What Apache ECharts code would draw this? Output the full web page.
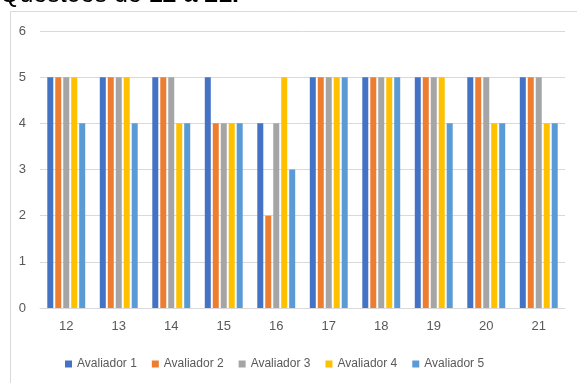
<!DOCTYPE html>
<html>
<head>
<meta charset="utf-8">
<script src="https://cdn.jsdelivr.net/npm/echarts@6/dist/echarts.min.js"></script>
<style>
  html, body { margin: 0; padding: 0; background: #fff; }
  #chart { width: 577px; height: 383px; }
</style>
</head>
<body>
<div id="chart"></div>
<script>
// questões 12..21, notas de cada avaliador
var questoes = ["12", "13", "14", "15", "16", "17", "18", "19", "20", "21"];
var avaliador1 = [5, 5, 5, 5, 4, 5, 5, 5, 5, 5];
var avaliador2 = [5, 5, 5, 4, 2, 5, 5, 5, 5, 5];
var avaliador3 = [5, 5, 5, 4, 4, 5, 5, 5, 5, 5];
var avaliador4 = [5, 5, 4, 4, 5, 5, 5, 5, 4, 4];
var avaliador5 = [4, 4, 4, 4, 3, 5, 5, 4, 4, 4];
var yTicks = [0, 1, 2, 3, 4, 5, 6];

var nomes = ["Avaliador 1", "Avaliador 2", "Avaliador 3", "Avaliador 4", "Avaliador 5"];
var valores = [avaliador1, avaliador2, avaliador3, avaliador4, avaliador5];
var cores = ["#4472c4", "#ed7d31", "#a5a5a5", "#ffc000", "#5b9bd5"];

var myChart = echarts.init(document.getElementById("chart"));

var option = {
  animation: false,
  color: cores,
  textStyle: { fontFamily: "Liberation Sans" },
  graphic: [
    {
      type: "rect",
      shape: { x: 10.5, y: 11.5, width: 700, height: 500 },
      style: { fill: "none", stroke: "#d9d9d9", lineWidth: 1 },
      silent: true
    },
    {
      type: "text",
      left: 0,
      top: -17,
      style: {
        text: "{n|Questões de }{b|12 a 21.}",
        rich: {
          n: { fontSize: 25, fill: "#000", fontFamily: "Liberation Sans" },
          b: { fontSize: 25, fill: "#000", fontWeight: "bold", fontFamily: "Liberation Sans" }
        }
      }
    }
  ],
  legend: {
    bottom: 8,
    left: 60,
    itemWidth: 7,
    itemHeight: 7,
    itemGap: 15,
    icon: "rect",
    textStyle: { color: "#595959", fontSize: 12 },
    data: nomes
  },
  grid: { left: 40, right: 12, top: 31, bottom: 75 },
  xAxis: {
    type: "category",
    data: questoes,
    axisLine: { lineStyle: { color: "#d9d9d9" } },
    axisTick: { show: false },
    axisLabel: { color: "#595959", fontSize: 13, margin: 12 }
  },
  yAxis: {
    type: "value",
    min: yTicks[0],
    max: yTicks[yTicks.length - 1],
    interval: 1,
    axisLine: { show: false },
    axisTick: { show: false },
    axisLabel: { color: "#595959", fontSize: 13, margin: 14 },
    splitLine: { lineStyle: { color: "#d9d9d9" } }
  },
  series: nomes.map(function (n, i) {
    return {
      name: n,
      type: "bar",
      data: valores[i],
      barWidth: 6,
      barGap: "33%"
    };
  })
};

myChart.setOption(option);
</script>
</body>
</html>
